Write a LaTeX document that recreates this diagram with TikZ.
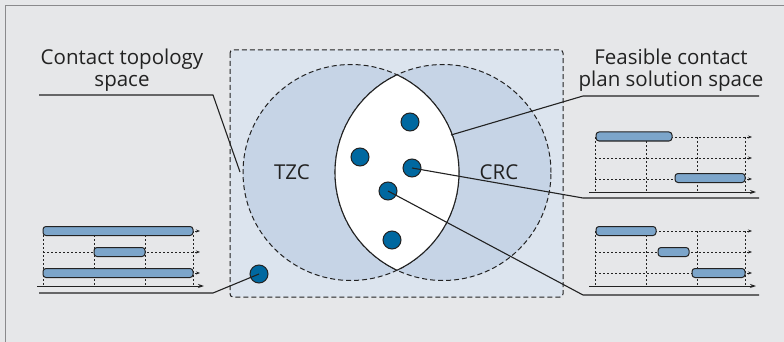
\documentclass[tikz,border=0pt]{standalone}
\usepackage{fontspec}
\setmainfont{Open Sans}
\usetikzlibrary{arrows.meta}
\definecolor{bgout}{HTML}{E6E7E9}
\definecolor{framegray}{HTML}{8A8A8C}
\definecolor{rectfill}{HTML}{DCE4EE}
\definecolor{circfill}{HTML}{C6D4E6}
\definecolor{dotblue}{HTML}{0068A0}
\definecolor{barblue}{HTML}{7CA5CA}
\definecolor{ink}{HTML}{222222}
\tikzset{
  lbl/.style={font=\fontsize{20.5}{22}\selectfont, text=ink, align=center, inner sep=0pt},
  dot/.style={circle, minimum size=18pt, inner sep=0pt, fill=dotblue, draw=ink, line width=1pt},
  conn/.style={draw=ink, line width=1.1pt},
  dcirc/.style={draw=ink, line width=1pt, dash pattern=on 5pt off 3pt},
  bar/.style={fill=barblue, draw=ink, line width=1pt, rounded corners=3pt},
  grid dots/.style={draw=ink, line width=0.9pt, dash pattern=on 2pt off 2pt},
  axisline/.style={draw=ink, line width=1pt, -{Stealth[length=6pt,width=4pt]}},
  rowline/.style={grid dots, -{Stealth[length=4pt,width=3pt]}}
}
\newcommand\chartgrid{%
  \foreach \xx in {0,51,102,150} {\draw[grid dots] (\xx,-55) -- (\xx,0);}
  \foreach \yy in {-55,-34,-13} {\draw[rowline] (0,\yy) -- (157,\yy);}
  \draw[axisline] (-6,0) -- (161,0);
}
\begin{document}
\begin{tikzpicture}[x=1pt,y=-1pt]
\useasboundingbox (0,0) rectangle (784,342);
\fill[bgout] (0,0) rectangle (784,342);
\draw[framegray, line width=1.6pt] (5.5,342) -- (5.5,5.5) -- (784,5.5);
% dashed rectangle
\draw[fill=rectfill, draw=ink, line width=1pt, dash pattern=on 5pt off 3pt, rounded corners=3pt] (230,50) rectangle (563,297);
% circles
\coordinate (ctz) at (351,172.5);
\coordinate (ccr) at (443,172.5);
\fill[circfill] (ctz) circle[radius=108pt];
\fill[circfill] (ccr) circle[radius=108pt];
\draw[dcirc] (ctz) circle[radius=108pt];
\draw[dcirc] (ccr) circle[radius=108pt];
% lens
\begin{scope}
  \clip (ctz) circle[radius=108pt];
  \fill[white] (ccr) circle[radius=108pt];
  \draw[ink, line width=1.1pt] (ccr) circle[radius=108pt];
\end{scope}
\begin{scope}
  \clip (ccr) circle[radius=108pt];
  \draw[ink, line width=1.1pt] (ctz) circle[radius=108pt];
\end{scope}
\node[lbl] (tzc) at (292,172) {TZC};
\node[lbl] (crc) at (499,172) {CRC};
% dots
\node[dot] (d1) at (410,122) {};
\node[dot] (d2) at (360,157) {};
\node[dot] (d3) at (412,168) {};
\node[dot] (d4) at (388,191) {};
\node[dot] (d5) at (392,240) {};
\node[dot] (d6) at (259,274) {};
% labels
\node[lbl] (ctlabel) at (122,70) {Contact topology\\space};
\node[lbl] (fslabel) at (671,70) {Feasible contact\\plan solution space};
% connector points
\coordinate (a1) at (39,95);
\coordinate (a2) at (213,95);
\coordinate (a3) at (240,172);
\coordinate (b1) at (39,293);
\coordinate (b2) at (213,293);
\coordinate (f1) at (759,96);
\coordinate (f2) at (583,96);
\coordinate (f3) at (451,135);
\coordinate (g1) at (759,198);
\coordinate (g2) at (583,198);
\coordinate (h1) at (759,295);
\coordinate (h2) at (583,295);
\draw[conn] (a1) -- (a2) -- (a3);
\draw[conn] (b1) -- (b2) -- (d6.center);
\draw[conn] (f1) -- (f2) -- (f3);
\draw[conn] (d3.center) -- (g2) -- (g1);
\draw[conn] (d4.center) -- (h2) -- (h1);
% charts
\begin{scope}[shift={(43,286)}]
  \chartgrid
  \draw[bar] (0,-59.5) rectangle (150,-50.5);
  \draw[bar] (51,-38.5) rectangle (102,-29.5);
  \draw[bar] (0,-17.5) rectangle (150,-8.5);
\end{scope}
\begin{scope}[shift={(595,192)}]
  \chartgrid
  \draw[bar] (1,-60) rectangle (77,-51);
  \draw[bar] (80,-18.5) rectangle (150,-9.5);
\end{scope}
\begin{scope}[shift={(595,286)}]
  \chartgrid
  \draw[bar] (1,-59.5) rectangle (61,-50.5);
  \draw[bar] (63,-38.5) rectangle (94,-29.5);
  \draw[bar] (97,-17.5) rectangle (150,-8.5);
\end{scope}
\end{tikzpicture}
\end{document}
